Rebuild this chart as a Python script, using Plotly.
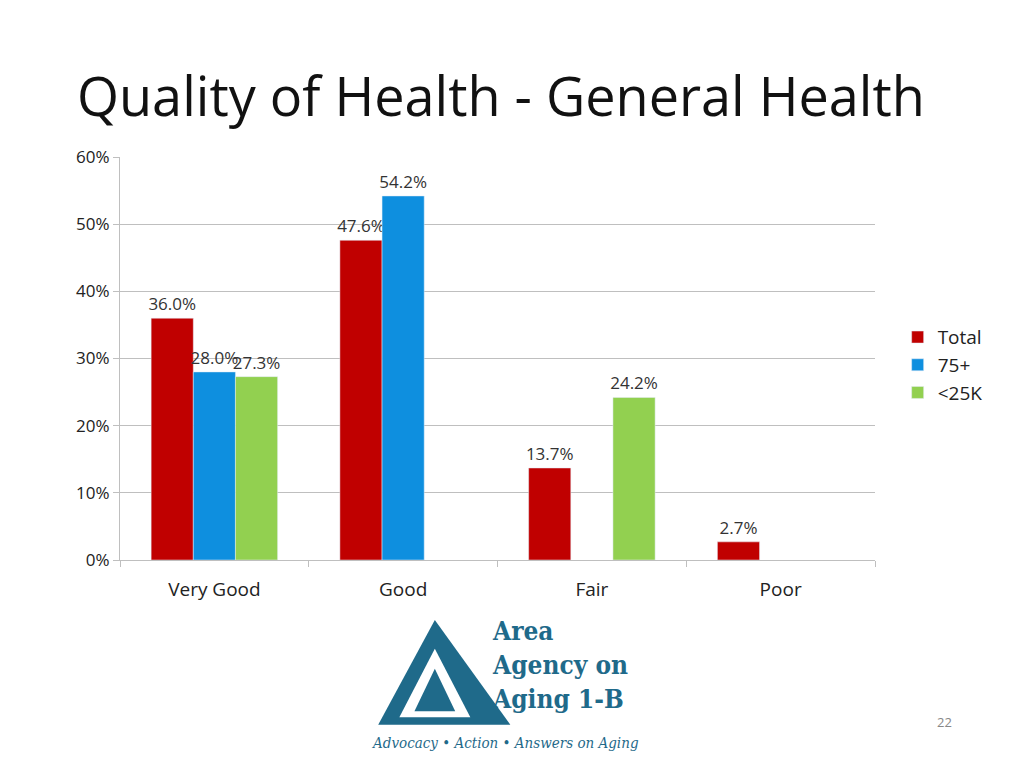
import plotly.graph_objects as go

categories = ["Very Good", "Good", "Fair", "Poor"]
total = [36.0, 47.6, 13.7, 2.7]
age75 = [28.0, 54.2, None, None]
low_income = [27.3, None, 24.2, None]

def labels(vals):
    return [f"{v:.1f}%" if v is not None else "" for v in vals]

fig = go.Figure()
for name, vals, color in [("Total", total, "#C00000"),
                          ("75+", age75, "#0E8FDF"),
                          ("<25K", low_income, "#92D050")]:
    fig.add_trace(go.Bar(
        x=categories, y=vals, name=name, marker_color=color,
        text=labels(vals), textposition="outside", cliponaxis=False,
        constraintext="none",
        textfont=dict(size=17, color="#333333"),
    ))

fig.update_layout(
    width=1024, height=768,
    paper_bgcolor="white", plot_bgcolor="white",
    font=dict(family="Open Sans, sans-serif", color="#222222"),
    barmode="group", bargap=0.33, bargroupgap=0,
    margin=dict(l=112, r=157, t=149, b=216),
    showlegend=True,
    legend=dict(x=1.03, y=0.6, xanchor="left", yanchor="top",
                font=dict(size=19), itemwidth=30, tracegroupgap=2),
    xaxis=dict(showline=True, linecolor="#BFBFBF", ticks="outside",
               tickson="boundaries", tickcolor="#BFBFBF", ticklen=6,
               ticklabelstandoff=12, tickfont=dict(size=19)),
    yaxis=dict(range=[0, 60], dtick=10, ticksuffix="%",
               showgrid=True, gridcolor="#BFBFBF", showline=True,
               linecolor="#BFBFBF", ticks="outside", tickcolor="#BFBFBF",
               ticklen=6, tickfont=dict(size=17), zeroline=False),
)

fig.add_annotation(text="Quality of Health - General Health", xref="paper", yref="paper",
                   x=-0.06, y=1.155, xanchor="left", yanchor="middle", showarrow=False,
                   font=dict(size=54, color="#111111"))

# logo approximation
logo = "#1F6A8A"
fig.add_shape(type="path", xref="paper", yref="paper",
              path="M 0.417 -0.149 L 0.342 -0.409 L 0.517 -0.409 Z",
              fillcolor=logo, line=dict(width=0))
fig.add_shape(type="path", xref="paper", yref="paper",
              path="M 0.417 -0.22 L 0.37 -0.39 L 0.464 -0.39 Z",
              fillcolor="white", line=dict(width=0))
fig.add_shape(type="path", xref="paper", yref="paper",
              path="M 0.417 -0.27 L 0.39 -0.375 L 0.444 -0.375 Z",
              fillcolor=logo, line=dict(width=0))
fig.add_annotation(text="<b>Area<br>Agency on<br>Aging 1-B</b>", xref="paper", yref="paper",
                   x=0.49, y=-0.135, xanchor="left", yanchor="top", align="left",
                   showarrow=False, font=dict(size=26, color=logo, family="DejaVu Serif Condensed, serif"))
fig.add_annotation(text="<i>Advocacy • Action • Answers on Aging</i>", xref="paper", yref="paper",
                   x=0.33, y=-0.455, xanchor="left", yanchor="middle", showarrow=False,
                   font=dict(size=15, color=logo, family="DejaVu Serif Condensed, serif"))
fig.add_annotation(text="22", xref="paper", yref="paper", x=1.105, y=-0.43,
                   showarrow=False, font=dict(size=13, color="#888888"))

fig.write_html("out.html")
